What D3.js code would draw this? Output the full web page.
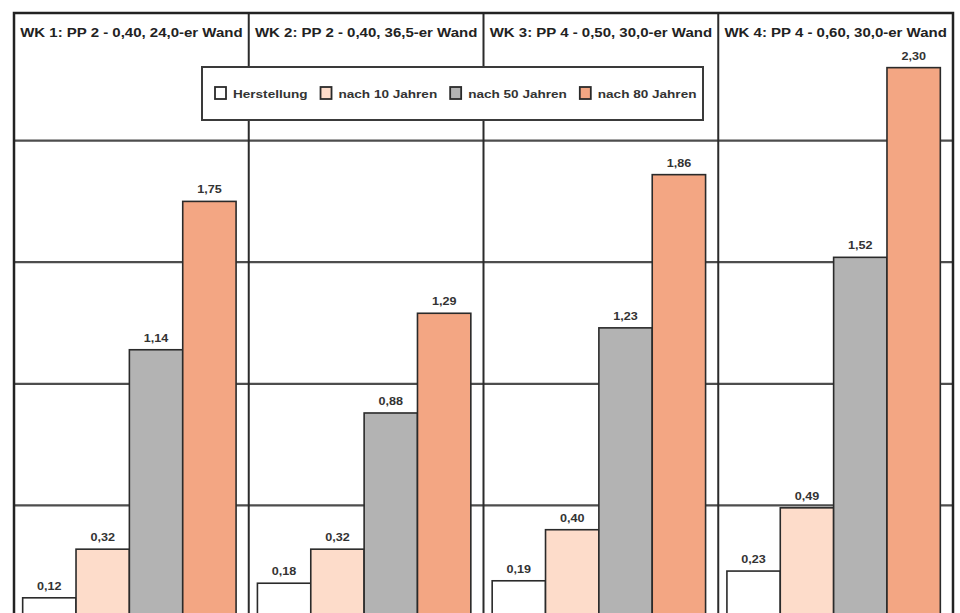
<!DOCTYPE html>
<html>
<head>
<meta charset="utf-8">
<script src="https://cdn.jsdelivr.net/npm/d3@7"></script>
<style>
  html, body { margin: 0; padding: 0; background: #fff; }
  svg { display: block; font-family: "Liberation Sans", Arial, sans-serif; }
</style>
</head>
<body>
<svg id="chart" width="960" height="613"></svg>
<script>
// Wall constructions (one panel each)
const groups = [
  "WK 1: PP 2 - 0,40, 24,0-er Wand",
  "WK 2: PP 2 - 0,40, 36,5-er Wand",
  "WK 3: PP 4 - 0,50, 30,0-er Wand",
  "WK 4: PP 4 - 0,60, 30,0-er Wand"
];
// Time points shown as bars inside each panel
const series = ["Herstellung", "nach 10 Jahren", "nach 50 Jahren", "nach 80 Jahren"];
const seriesColors = ["#ffffff", "#fddcca", "#b3b3b3", "#f3a683"];

// Values per time point, one entry per wall construction
const herstellung = [0.12, 0.18, 0.19, 0.23];
const nach10 = [0.32, 0.32, 0.40, 0.49];
const nach50 = [1.14, 0.88, 1.23, 1.52];
const nach80 = [1.75, 1.29, 1.86, 2.30];
const yTicks = [0.5, 1.0, 1.5, 2.0];

const seriesValues = [herstellung, nach10, nach50, nach80];
const rows = groups.map((g, gi) => ({
  group: g,
  bars: series.map((s, si) => ({ series: s, idx: si, value: seriesValues[si][gi] }))
}));

const svg = d3.select("#chart");
const frame = { left: 14, right: 953, top: 13 };
const textStretch = 1.2;   // wide lettering
const fmt = v => d3.format(".2f")(v).replace(".", ",");

const x0 = d3.scaleBand().domain(groups).range([frame.left, frame.right]).padding(0);
const x1 = d3.scaleBand().domain(series).range([0, x0.bandwidth()])
  .paddingInner(0).paddingOuter(0.2);
const y = d3.scaleLinear().domain([0, 2.5]).range([627, 19]);

// horizontal gridlines
svg.append("g").selectAll("line").data(yTicks).join("line")
  .attr("x1", frame.left).attr("x2", frame.right)
  .attr("y1", d => y(d)).attr("y2", d => y(d))
  .attr("stroke", "#4d4d4d").attr("stroke-width", 2.2);

// panel dividers
svg.append("g").selectAll("line").data(groups.slice(1)).join("line")
  .attr("x1", d => x0(d)).attr("x2", d => x0(d))
  .attr("y1", frame.top).attr("y2", 640)
  .attr("stroke", "#2b2b2b").attr("stroke-width", 2);

// bars, shifted slightly left inside each panel
const panel = svg.append("g").selectAll("g").data(rows).join("g")
  .attr("transform", d => `translate(${x0(d.group) - 2},0)`);

panel.selectAll("rect").data(d => d.bars).join("rect")
  .attr("x", d => x1(d.series))
  .attr("y", d => y(d.value))
  .attr("width", x1.bandwidth())
  .attr("height", d => y(0) - y(d.value))
  .attr("fill", d => seriesColors[d.idx])
  .attr("stroke", "#2a2a2a").attr("stroke-width", 1.6);

// value labels
panel.selectAll("text.val").data(d => d.bars).join("text")
  .attr("class", "val")
  .attr("transform", d => `translate(${x1(d.series) + x1.bandwidth() / 2},${y(d.value) - 8}) scale(${textStretch},1)`)
  .attr("text-anchor", "middle")
  .attr("font-size", 10.5).attr("font-weight", "bold").attr("fill", "#333")
  .text(d => fmt(d.value));

// panel headings
svg.append("g").selectAll("text").data(groups).join("text")
  .attr("transform", d => `translate(${x0(d) + x0.bandwidth() / 2},37) scale(${textStretch},1)`)
  .attr("text-anchor", "middle")
  .attr("font-size", 12.5).attr("font-weight", "bold").attr("fill", "#222")
  .text(d => d);

// outer frame
svg.append("path")
  .attr("d", `M${frame.left},640V${frame.top}H${frame.right}V640`)
  .attr("fill", "none").attr("stroke", "#222").attr("stroke-width", 2.5);

// legend
const legend = svg.append("g");
legend.append("rect")
  .attr("x", 202).attr("y", 67).attr("width", 501).attr("height", 53)
  .attr("fill", "#fff").attr("stroke", "#3a3a3a").attr("stroke-width", 2);

let lx = 215;
series.forEach((s, i) => {
  const item = legend.append("g");
  item.append("rect")
    .attr("x", lx).attr("y", 87).attr("width", 11).attr("height", 12)
    .attr("fill", seriesColors[i]).attr("stroke", "#2a2a2a").attr("stroke-width", 1.8);
  const t = item.append("text")
    .attr("transform", `translate(${lx + 18},97.5) scale(${textStretch},1)`)
    .attr("font-size", 11.3).attr("font-weight", "bold").attr("fill", "#333")
    .text(s);
  lx += 18 + t.node().getComputedTextLength() * textStretch + 13;
});
</script>
</body>
</html>
